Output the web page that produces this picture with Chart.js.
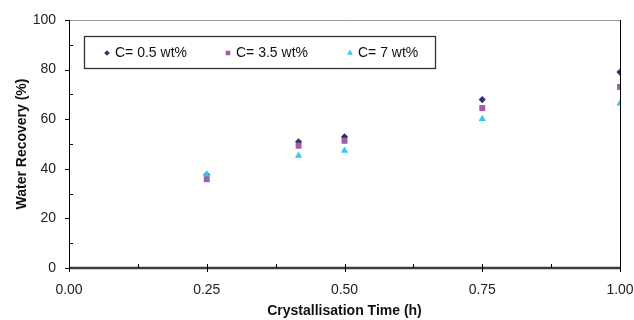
<!DOCTYPE html>
<html>
<head>
<meta charset="utf-8">
<script src="https://cdn.jsdelivr.net/npm/chart.js@4/dist/chart.umd.min.js"></script>
<style>
html,body{margin:0;padding:0;background:#fff;}
#wrap{width:634px;height:320px;position:relative;}
</style>
</head>
<body>
<div id="wrap"><canvas id="c" width="634" height="320"></canvas></div>
<script>
const times = [0.25, 5/12, 0.5, 0.75, 1.0];
const seriesLabels = ['C= 0.5 wt%', 'C= 3.5 wt%', 'C= 7 wt%'];
const recovery05 = [37.6, 50.9, 52.9, 67.9, 79.0];
const recovery35 = [35.8, 49.3, 51.3, 64.5, 73.0];
const recovery7  = [37.7, 45.3, 47.3, 60.1, 66.4];
const xTicks = [0, 0.25, 0.5, 0.75, 1.0];
const yTicks = [0, 20, 40, 60, 80, 100];

const colors = ['#2B3372', '#A35BAA', '#33C9F5'];
const styles = ['rectRot', 'rect', 'triangle'];
const radii = [3.6, 4.2, 4.2];
const values = [recovery05, recovery35, recovery7];

const datasets = values.map((vals, i) => ({
  label: seriesLabels[i],
  data: times.map((t, j) => ({x: t, y: vals[j]})),
  pointStyle: styles[i],
  pointRadius: radii[i],
  pointBackgroundColor: colors[i],
  pointBorderColor: colors[i],
  pointBorderWidth: 0,
  showLine: false,
  order: 2 - i
}));

const FONT = '"Liberation Sans", Arial, sans-serif';

const framePlugin = {
  id: 'frame',
  afterDraw(chart) {
    const ctx = chart.ctx;
    const a = chart.chartArea;
    const xs = chart.scales.x, ys = chart.scales.y;
    ctx.save();
    ctx.strokeStyle = '#9a9a9a';
    ctx.lineWidth = 1;
    ctx.beginPath(); ctx.moveTo(a.left, a.top + 0.5); ctx.lineTo(a.right, a.top + 0.5); ctx.stroke();
    ctx.strokeStyle = '#000';
    ctx.beginPath(); ctx.moveTo(a.right + 0.5, a.top); ctx.lineTo(a.right + 0.5, a.bottom); ctx.stroke();
    ctx.beginPath(); ctx.moveTo(a.left + 0.5, a.top); ctx.lineTo(a.left + 0.5, a.bottom); ctx.stroke();
    for (let v = 0; v <= 100; v += 10) {
      const y = Math.round(ys.getPixelForValue(v)) + 0.5;
      ctx.beginPath();
      if (v % 20 === 0) { ctx.moveTo(a.left - 4, y); ctx.lineTo(a.left + 1, y); }
      else { ctx.moveTo(a.left, y); ctx.lineTo(a.left + 4, y); }
      ctx.stroke();
    }
    ctx.strokeStyle = '#3c3c3c';
    ctx.lineWidth = 2.5;
    ctx.beginPath(); ctx.moveTo(a.left, a.bottom); ctx.lineTo(a.right + 1, a.bottom); ctx.stroke();
    ctx.lineWidth = 1;
    ctx.strokeStyle = '#000';
    for (let k = 0; k <= 8; k++) {
      const v = k * 0.125;
      const x = Math.round(xs.getPixelForValue(v)) + 0.5;
      ctx.beginPath();
      if (k % 2 === 0) { ctx.moveTo(x, a.bottom - 4); ctx.lineTo(x, a.bottom + 4); }
      else { ctx.moveTo(x, a.bottom - 4); ctx.lineTo(x, a.bottom); }
      ctx.stroke();
    }
    // legend box
    const bx = a.left + 15, by = a.top + 16, bw = 351, bh = 32;
    ctx.fillStyle = '#fff';
    ctx.fillRect(bx, by, bw, bh);
    ctx.strokeStyle = '#333';
    ctx.lineWidth = 1.3;
    ctx.strokeRect(bx + 0.5, by + 0.5, bw, bh);
    const cy = by + 17;
    const itemX = [bx + 23, bx + 144, bx + 266];
    ctx.font = '14px ' + FONT;
    ctx.textBaseline = 'middle';
    ctx.textAlign = 'left';
    for (let i = 0; i < 3; i++) {
      ctx.fillStyle = colors[i];
      ctx.strokeStyle = colors[i];
      Chart.helpers.drawPoint(ctx, {pointStyle: styles[i], radius: [2.8, 3.2, 3.4][i], borderWidth: 0}, itemX[i], cy);
      ctx.fillStyle = '#111';
      ctx.fillText(seriesLabels[i], itemX[i] + 8, cy);
    }
    ctx.restore();
  }
};

new Chart(document.getElementById('c'), {
  type: 'scatter',
  data: { datasets },
  options: {
    responsive: false,
    animation: false,
    devicePixelRatio: 1,
    layout: { padding: { left: 8, right: 14, top: 20, bottom: 0 } },
    plugins: { legend: { display: false }, tooltip: { enabled: false } },
    scales: {
      x: {
        type: 'linear', min: 0, max: 1,
        afterBuildTicks: s => { s.ticks = xTicks.map(v => ({value: v})); },
        grid: { display: false, drawTicks: false },
        border: { display: false },
        ticks: {
          color: '#222', font: { family: FONT, size: 14 }, padding: 14,
          callback: v => v.toFixed(2), maxRotation: 0
        },
        title: { display: true, text: 'Crystallisation Time (h)', color: '#111',
          font: { family: FONT, size: 14, weight: 'bold' }, padding: { top: 0, bottom: 0.5 } },
        afterFit: s => { s.height = 52; s.paddingLeft = 0; s.paddingRight = 0; }
      },
      y: {
        type: 'linear', min: 0, max: 100,
        afterBuildTicks: s => { s.ticks = yTicks.map(v => ({value: v})); },
        grid: { display: false, drawTicks: false },
        border: { display: false },
        ticks: { color: '#222', font: { family: FONT, size: 14 }, padding: 13 },
        title: { display: true, text: 'Water Recovery (%)', color: '#111',
          font: { family: FONT, size: 14, weight: 'bold' }, padding: { top: 6, bottom: 0 } },
        afterFit: s => { s.width = 61; s.paddingTop = 0; s.paddingBottom = 0; }
      }
    }
  },
  plugins: [framePlugin]
});
</script>
</body>
</html>
